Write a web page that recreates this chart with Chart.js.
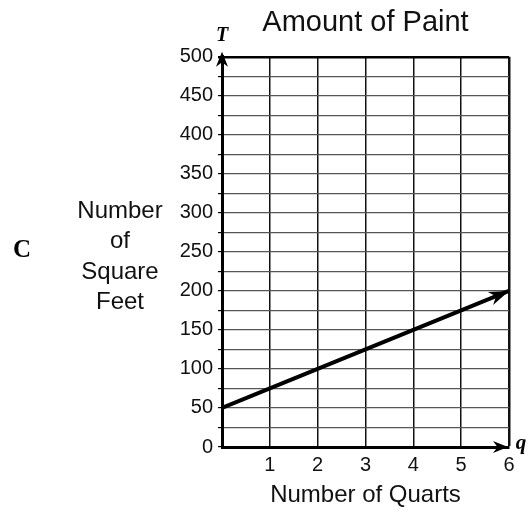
<!DOCTYPE html>
<html>
<head>
<meta charset="utf-8">
<script src="https://cdn.jsdelivr.net/npm/chart.js@4"></script>
<style>
    body { margin: 0; background: #fff; }
    #wrap { width: 530px; height: 513px; }
</style>
</head>
<body>
<div id="wrap"><canvas id="paintChart"></canvas></div>
<script>
// số liệu
const quarts = [0, 1, 2, 3, 4, 5, 6];
const squareFeet = [50, 75, 100, 125, 150, 175, 200];
const xTickLabels = ['', '1', '2', '3', '4', '5', '6'];
const yTickLabels = ['0', '50', '100', '150', '200', '250', '300', '350', '400', '450', '500'];
const yTitleLines = ['Number', 'of', 'Square', 'Feet'];

const sans = '"Liberation Sans", Arial, sans-serif';
const serif = '"Liberation Serif", "Times New Roman", serif';

function arrowHead(ctx, x, y, angle, len, half) {
    ctx.save();
    ctx.translate(x, y);
    ctx.rotate(angle);
    ctx.beginPath();
    ctx.moveTo(0, 0);
    ctx.lineTo(-len, -half);
    ctx.lineTo(-len * 0.7, 0);
    ctx.lineTo(-len, half);
    ctx.closePath();
    ctx.fillStyle = '#000';
    ctx.fill();
    ctx.restore();
}

// vẽ mũi tên, chữ T, q, C và tiêu đề trục tung
const decorPlugin = {
    id: 'decor',
    afterDatasetsDraw(chart) {
        const ctx = chart.ctx;
        const xs = chart.scales.x;
        const ys = chart.scales.y;
        const area = chart.chartArea;

        // mũi tên trục
        arrowHead(ctx, area.left, area.top - 5, -Math.PI / 2, 15, 6);
        arrowHead(ctx, area.right - 1, area.bottom, 0, 15, 6);

        // mũi tên của đường thẳng
        const n = quarts.length;
        const x1 = xs.getPixelForValue(quarts[n - 2]);
        const y1 = ys.getPixelForValue(squareFeet[n - 2]);
        const x2 = xs.getPixelForValue(quarts[n - 1]);
        const y2 = ys.getPixelForValue(squareFeet[n - 1]);
        arrowHead(ctx, x2, y2, Math.atan2(y2 - y1, x2 - x1), 20, 7);

        ctx.save();
        ctx.fillStyle = '#000';
        ctx.textAlign = 'center';
        ctx.textBaseline = 'middle';
        ctx.font = 'italic bold 20px ' + serif;
        ctx.fillText('T', area.left, 36);
        ctx.font = 'italic bold 21px ' + serif;
        ctx.fillText('q', 521, 444);
        ctx.font = 'bold 25px ' + serif;
        ctx.fillText('C', 22, 251);

        ctx.font = '24px ' + sans;
        ctx.fillStyle = '#111';
        yTitleLines.forEach((line, i) => {
            ctx.fillText(line, 120, 211 + i * 30.5);
        });
        ctx.restore();
    }
};

const ctx = document.getElementById('paintChart').getContext('2d');
const paintChart = new Chart(ctx, {
    type: 'scatter',
    data: {
        datasets: [{
            label: 'Number of Square Feet',
            data: quarts.map((q, i) => ({ x: q, y: squareFeet[i] })),
            showLine: true,
            borderColor: '#000',
            borderWidth: 4,
            pointRadius: 0,
            borderCapStyle: 'butt'
        }]
    },
    options: {
        responsive: true,
        maintainAspectRatio: false,
        animation: false,
        layout: {
            padding: { left: 0, right: 21, top: 0, bottom: 0 }
        },
        plugins: {
            legend: { display: false },
            tooltip: { enabled: false },
            title: {
                display: true,
                text: 'Amount of Paint',
                fullSize: false,
                color: '#111',
                font: { family: sans, size: 29, weight: 'normal' },
                padding: { top: 6, bottom: 16 }
            }
        },
        scales: {
            x: {
                type: 'linear',
                min: 0,
                max: 6,
                afterFit(scale) { scale.height = 66; },
                ticks: {
                    stepSize: 1,
                    autoSkip: false,
                    maxRotation: 0,
                    padding: 6,
                    color: '#111',
                    font: { family: sans, size: 20 },
                    callback: (value) => xTickLabels[quarts.indexOf(value)] ?? ''
                },
                grid: {
                    drawTicks: false,
                    color: '#111',
                    lineWidth: (c) => (c.tick && c.tick.value === 6 ? 2.5 : 1.5)
                },
                border: { display: true, color: '#000', width: 3 },
                title: {
                    display: true,
                    text: 'Number of Quarts',
                    color: '#111',
                    font: { family: sans, size: 24 },
                    padding: { top: 0, bottom: 3 }
                }
            },
            y: {
                type: 'linear',
                min: 0,
                max: 500,
                afterFit(scale) { scale.width = 222; },
                ticks: {
                    stepSize: 25,
                    autoSkip: false,
                    padding: 5,
                    color: '#111',
                    font: { family: sans, size: 20 },
                    callback: (value) => (yTickLabels.includes(String(value)) ? String(value) : '')
                },
                grid: {
                    tickLength: 4,
                    tickColor: '#000',
                    color: (c) => (c.tick && c.tick.value === 500 ? '#000' : '#555'),
                    lineWidth: (c) => (c.tick && c.tick.value === 500 ? 2.5 : 1.2)
                },
                border: { display: true, color: '#000', width: 3 }
            }
        }
    },
    plugins: [decorPlugin]
});
</script>
</body>
</html>
